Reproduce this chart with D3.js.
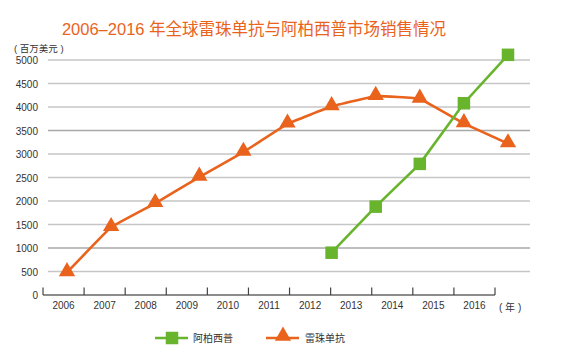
<!DOCTYPE html>
<html>
<head>
<meta charset="utf-8">
<script src="https://cdn.jsdelivr.net/npm/d3@7"></script>
<style>
  html, body { margin: 0; padding: 0; background: #fff; }
  svg { display: block; font-family: "Liberation Sans", "Noto Sans CJK SC", sans-serif; }
</style>
</head>
<body>
<svg id="chart" width="561" height="356"></svg>
<script>
const years = ["2006","2007","2008","2009","2010","2011","2012","2013","2014","2015","2016"];
const ranibizumab = [480, 1440, 1950, 2510, 3040, 3640, 4010, 4230, 4170, 3650, 3220];
const afliberceptYears = ["2012","2013","2014","2015","2016"];
const aflibercept = [900, 1880, 2790, 4080, 5110];
const yTicks = [0, 500, 1000, 1500, 2000, 2500, 3000, 3500, 4000, 4500, 5000];
const title = "2006–2016 年全球雷珠单抗与阿柏西普市场销售情况";
const seriesNames = ["阿柏西普", "雷珠单抗"];
const yUnit = "( 百万美元 )";
const xUnit = "( 年 )";

const orange = "#e9631d";
const green = "#69b42d";

const svg = d3.select("#chart");

const y = d3.scaleLinear().domain([0, 5000]).range([295, 60]);
const xBand = d3.scaleBand().domain(years).range([43, 495]);
const xPt = d3.scalePoint().domain(years).range([67, 508]);

// title
svg.append("text")
  .attr("x", 254).attr("y", 35)
  .attr("text-anchor", "middle")
  .attr("font-size", 16.5)
  .attr("fill", orange)
  .text(title);

// y unit
svg.append("text")
  .attr("x", 14).attr("y", 52)
  .attr("font-size", 9.5)
  .attr("fill", "#333")
  .text(yUnit);

// gridlines (excluding zero)
svg.append("g").selectAll("line")
  .data(yTicks.filter(d => d > 0))
  .join("line")
  .attr("x1", 48).attr("x2", 530)
  .attr("y1", d => y(d)).attr("y2", d => y(d))
  .attr("stroke", d => (d === 1000 || d === 3500) ? "#a8a8a8" : "#c6c6c6")
  .attr("stroke-width", 1.6);

// y axis labels
const yAxis = d3.axisLeft(y).tickValues(yTicks).tickFormat(d3.format("d")).tickSize(0).tickPadding(0);
const gy = svg.append("g").attr("transform", "translate(38,0)").call(yAxis);
gy.select(".domain").remove();
gy.selectAll("text")
  .attr("font-size", 10)
  .attr("fill", "#333")
  .attr("font-family", "Liberation Sans, sans-serif")
  .attr("dy", "0.35em");

// x axis baseline
svg.append("line")
  .attr("x1", xBand.range()[0]).attr("x2", xBand.range()[1])
  .attr("y1", 295).attr("y2", 295)
  .attr("stroke", "#666").attr("stroke-width", 1.5);

// x tick marks at band boundaries
const boundaries = years.map(d => xBand(d)).concat([xBand(years[years.length - 1]) + xBand.bandwidth()]);
svg.append("g").selectAll("line")
  .data(boundaries)
  .join("line")
  .attr("x1", d => d).attr("x2", d => d)
  .attr("y1", 287.5).attr("y2", 295)
  .attr("stroke", "#444").attr("stroke-width", 1.2);

// x labels
const xAxis = d3.axisBottom(xBand).tickSize(0).tickPadding(0);
const gx = svg.append("g").attr("transform", "translate(0,302)").call(xAxis);
gx.select(".domain").remove();
gx.selectAll("text")
  .attr("font-size", 10)
  .attr("fill", "#333")
  .attr("font-family", "Liberation Sans, sans-serif")
  .attr("dy", "0.71em");

svg.append("text")
  .attr("x", 499).attr("y", 311)
  .attr("font-size", 10)
  .attr("fill", "#333")
  .attr("xml:space", "preserve")
  .text(xUnit);

// series: ranibizumab (orange, lightly smoothed)
const ranData = years.map((yr, i) => ({ year: yr, v: ranibizumab[i] }));
const lineSmooth = d3.line()
  .x(d => xPt(d.year)).y(d => y(d.v))
  .curve(d3.curveCardinal.tension(0.75));
svg.append("path")
  .datum(ranData)
  .attr("d", lineSmooth)
  .attr("fill", "none")
  .attr("stroke", orange)
  .attr("stroke-width", 2.6);

// series: aflibercept (green)
const aflData = afliberceptYears.map((yr, i) => ({ year: yr, v: aflibercept[i] }));
const lineStraight = d3.line().x(d => xPt(d.year)).y(d => y(d.v));
svg.append("path")
  .datum(aflData)
  .attr("d", lineStraight)
  .attr("fill", "none")
  .attr("stroke", green)
  .attr("stroke-width", 2.6);

const triSym = d3.symbol().type(d3.symbolTriangle).size(115);
const sqSize = 12.5;

svg.append("g").selectAll("path")
  .data(ranData)
  .join("path")
  .attr("d", triSym)
  .attr("transform", d => `translate(${xPt(d.year)},${y(d.v) - 1})`)
  .attr("fill", orange);

svg.append("g").selectAll("rect")
  .data(aflData)
  .join("rect")
  .attr("x", d => xPt(d.year) - sqSize / 2)
  .attr("y", d => y(d.v) - sqSize / 2)
  .attr("width", sqSize).attr("height", sqSize)
  .attr("fill", green);

// legend
const leg = svg.append("g");
leg.append("line").attr("x1", 155).attr("x2", 188).attr("y1", 338).attr("y2", 338)
  .attr("stroke", green).attr("stroke-width", 2.6);
leg.append("rect").attr("x", 172 - sqSize / 2).attr("y", 338 - sqSize / 2)
  .attr("width", sqSize).attr("height", sqSize).attr("fill", green);
leg.append("text").attr("x", 193).attr("y", 342).attr("font-size", 10).attr("fill", "#333")
  .text(seriesNames[0]);

leg.append("line").attr("x1", 266).attr("x2", 299).attr("y1", 338).attr("y2", 338)
  .attr("stroke", orange).attr("stroke-width", 2.6);
leg.append("path").attr("d", triSym).attr("transform", "translate(283,336)").attr("fill", orange);
leg.append("text").attr("x", 305).attr("y", 342).attr("font-size", 10).attr("fill", "#333")
  .text(seriesNames[1]);
</script>
</body>
</html>
